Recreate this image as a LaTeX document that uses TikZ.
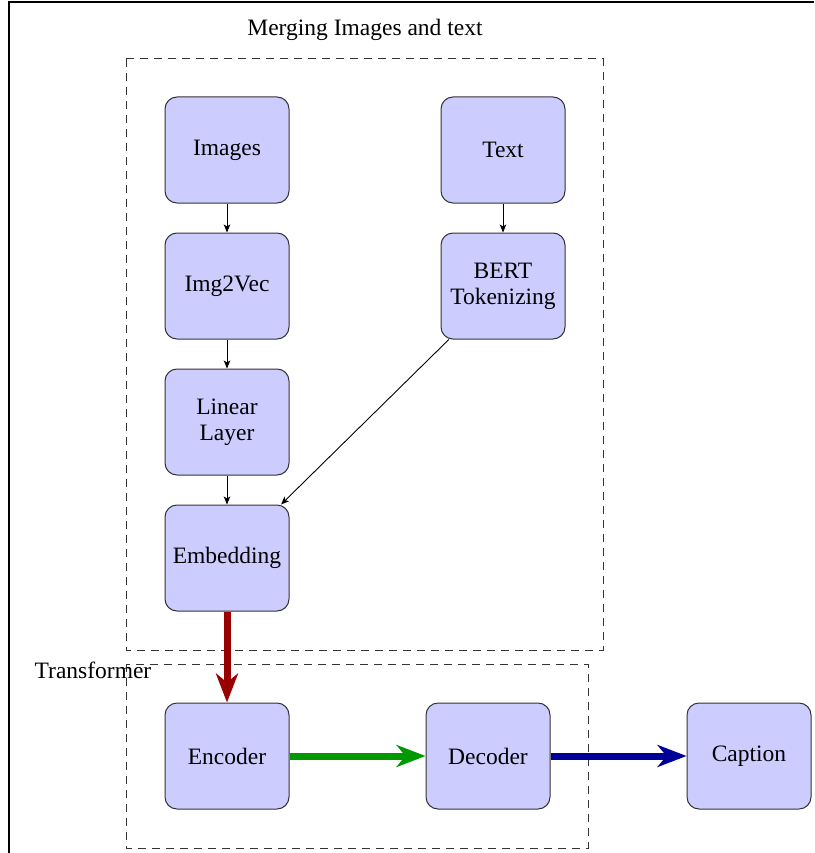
\documentclass[tikz,border=0pt]{standalone}
\usepackage{fontspec}
\setmainfont{Liberation Serif}
\usetikzlibrary{arrows.meta}
\begin{document}
\begin{tikzpicture}[x=1pt,y=-1pt,
  box/.style={draw=black!80,line width=1pt,fill=blue!20,rounded corners=12pt,minimum width=124pt,minimum height=106pt,align=center,inner sep=0pt,font=\fontsize{23.5}{26}\selectfont},
  lbl/.style={font=\fontsize{23.5}{26}\selectfont,inner sep=0pt},
  dbox/.style={draw=black!80,line width=1pt,dash pattern=on 8pt off 6pt},
  thin/.style={-{Stealth[length=8pt,width=6.5pt,inset=2pt]},line width=0.9pt},
  fat/.style={line width=7pt,-{Stealth[length=29pt,width=22pt,inset=9pt]}}]
\useasboundingbox (0,0) rectangle (814,853);
\draw[line width=1.2pt] (9,853) -- (9,2) -- (814,2);
\node[lbl] (t1) at (365,29.5) {Merging Images and text};
\draw[dbox] (126,59) rectangle (603,650);
\draw[dbox] (126,664) rectangle (588,848);
\node[lbl] (t2) at (93,670) {Transformer};
\node[box] (img) at (227,150) {Images};
\node[box] (txt) at (503,150) {Text};
\node[box] (i2v) at (227,286) {Img2Vec};
\node[box] (bert) at (503,286) {BERT\\Tokenizing};
\node[box] (lin) at (227,422) {Linear\\Layer};
\node[box] (emb) at (227,558) {Embedding};
\node[box] (enc) at (227,756) {Encoder};
\node[box] (dec) at (488,756) {Decoder};
\node[box] (cap) at (749,756) {Caption};
\draw[thin] (img) -- (i2v);
\draw[thin] (i2v) -- (lin);
\draw[thin] (lin) -- (emb);
\draw[thin] (txt) -- (bert);
\draw[thin] (bert) -- (emb);
\draw[fat,draw=red!60!black,fill=red!60!black] (emb) -- (enc);
\draw[fat,draw=green!60!black,fill=green!60!black] (enc) -- (dec);
\draw[fat,draw=blue!60!black,fill=blue!60!black] (dec) -- (cap);
\end{tikzpicture}
\end{document}
